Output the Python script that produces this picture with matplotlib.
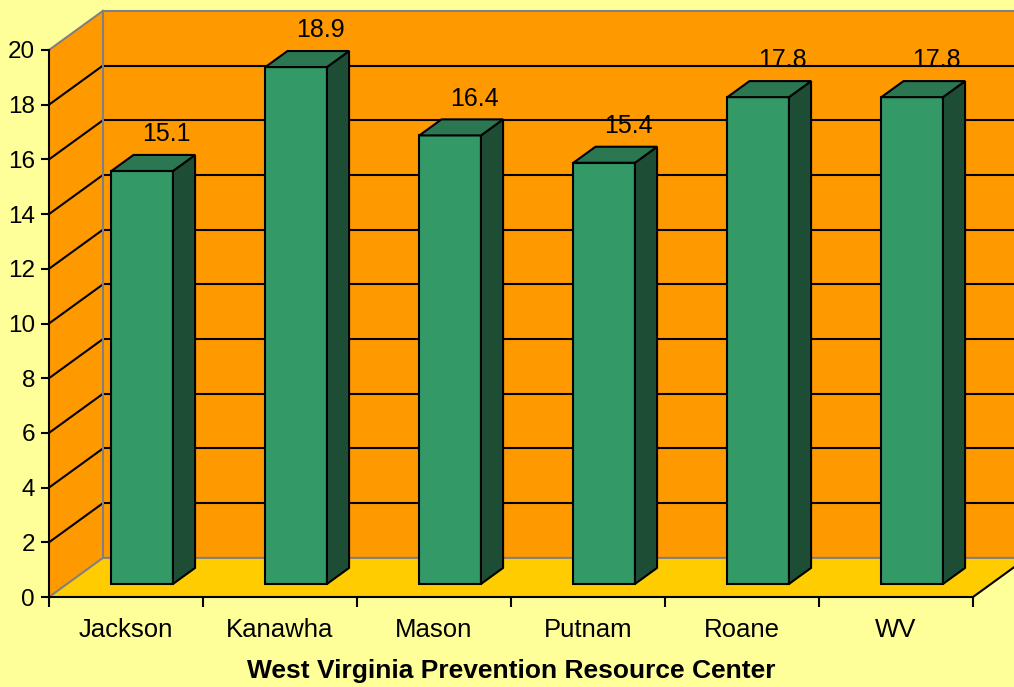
import matplotlib.pyplot as plt
from matplotlib.patches import Polygon

plt.rcParams['font.family'] = ['Liberation Sans', 'DejaVu Sans']

categories = ['Jackson', 'Kanawha', 'Mason', 'Putnam', 'Roane', 'WV']
values = [15.1, 18.9, 16.4, 15.4, 17.8, 17.8]
y_ticks = list(range(0, 21, 2))
title = 'West Virginia Prevention Resource Center'

# 3d look: depth offset of the back wall, in data units
DX, DY = 0.35, 1.43
F, G = 1 / 3, 0.41     # bar front plane / bar depth as fraction of the full depth
W = 0.40               # bar width

fig = plt.figure(figsize=(10.14, 6.87), dpi=100, facecolor='#FFFF99')
ax = fig.add_axes([49 / 1014, 90 / 687, 924 / 1014, 547 / 687])
ax.set_xlim(0, len(categories))
ax.set_ylim(0, 20)
ax.patch.set_visible(False)

n = len(categories)
gray = '#808080'
lw = 1.5

# back wall, side wall, floor
ax.add_patch(Polygon([(DX, DY), (n + DX, DY), (n + DX, 20 + DY), (DX, 20 + DY)],
                     closed=True, fc='#FF9900', ec='none', clip_on=False, zorder=0))
ax.add_patch(Polygon([(0, 0), (DX, DY), (DX, 20 + DY), (0, 20)],
                     closed=True, fc='#FF9900', ec='none', clip_on=False, zorder=0))
ax.add_patch(Polygon([(0, 0), (n, 0), (n + DX, DY), (DX, DY)],
                     closed=True, fc='#FFCC00', ec='none', clip_on=False, zorder=0))

for v in y_ticks[1:-1]:
    ax.plot([DX, n + DX], [v + DY, v + DY], color='black', lw=lw, clip_on=False, zorder=1)
    ax.plot([0, DX], [v, v + DY], color='black', lw=lw, clip_on=False, zorder=1)
ax.plot([DX, n + DX], [20 + DY, 20 + DY], color=gray, lw=lw, clip_on=False, zorder=1)
ax.plot([0, DX], [20, 20 + DY], color=gray, lw=lw, clip_on=False, zorder=1)
ax.plot([0, DX, n + DX], [0, DY, DY], color=gray, lw=lw, clip_on=False, zorder=1)
ax.plot([DX, DX], [DY, 20 + DY], color=gray, lw=lw, clip_on=False, zorder=1)
ax.plot([n, n + DX], [0, DY], color='black', lw=lw, clip_on=False, zorder=1)

# bars
for i, v in enumerate(values):
    x0 = i + 0.5 - W / 2 + 0.3 * DX
    x1 = x0 + W
    y0 = F * DY
    y1 = v + F * DY
    gx, gy = G * DX, G * DY
    kw = dict(closed=True, ec='black', lw=lw, clip_on=False, zorder=3, joinstyle='miter')
    ax.add_patch(Polygon([(x0, y0), (x1, y0), (x1, y1), (x0, y1)], fc='#339966', **kw))
    ax.add_patch(Polygon([(x1, y0), (x1 + gx, y0 + gy), (x1 + gx, y1 + gy), (x1, y1)],
                         fc='#1D4D35', **kw))
    ax.add_patch(Polygon([(x0, y1), (x1, y1), (x1 + gx, y1 + gy), (x0 + gx, y1 + gy)],
                         fc='#2A7752', **kw))
    ax.annotate(f'{v:.1f}', (i + 0.5 + (F + G) * DX, y1 + gy), xytext=(0, 15),
                textcoords='offset points', ha='center', va='center',
                fontsize=18, zorder=4)

for s in ['top', 'right']:
    ax.spines[s].set_visible(False)
for s in ['left', 'bottom']:
    ax.spines[s].set_color('black')
    ax.spines[s].set_linewidth(lw)
    ax.spines[s].set_zorder(2)

ax.set_yticks(y_ticks)
ax.set_xticks(range(n + 1))
ax.set_xticklabels([])
ax.set_xticks([i + 0.5 for i in range(n)], minor=True)
ax.set_xticklabels(categories, minor=True, fontsize=18.5)
ax.tick_params(axis='x', which='minor', length=0, pad=15)
ax.tick_params(axis='x', which='major', length=7, width=lw, direction='out')
ax.tick_params(axis='y', length=6, width=lw, direction='out', labelsize=17.5, pad=4)

fig.text(511 / 1014, 1 - 671 / 687, title, ha='center', va='center',
         fontsize=19, fontweight='bold')

fig.savefig('out.png', dpi=100, facecolor=fig.get_facecolor())
